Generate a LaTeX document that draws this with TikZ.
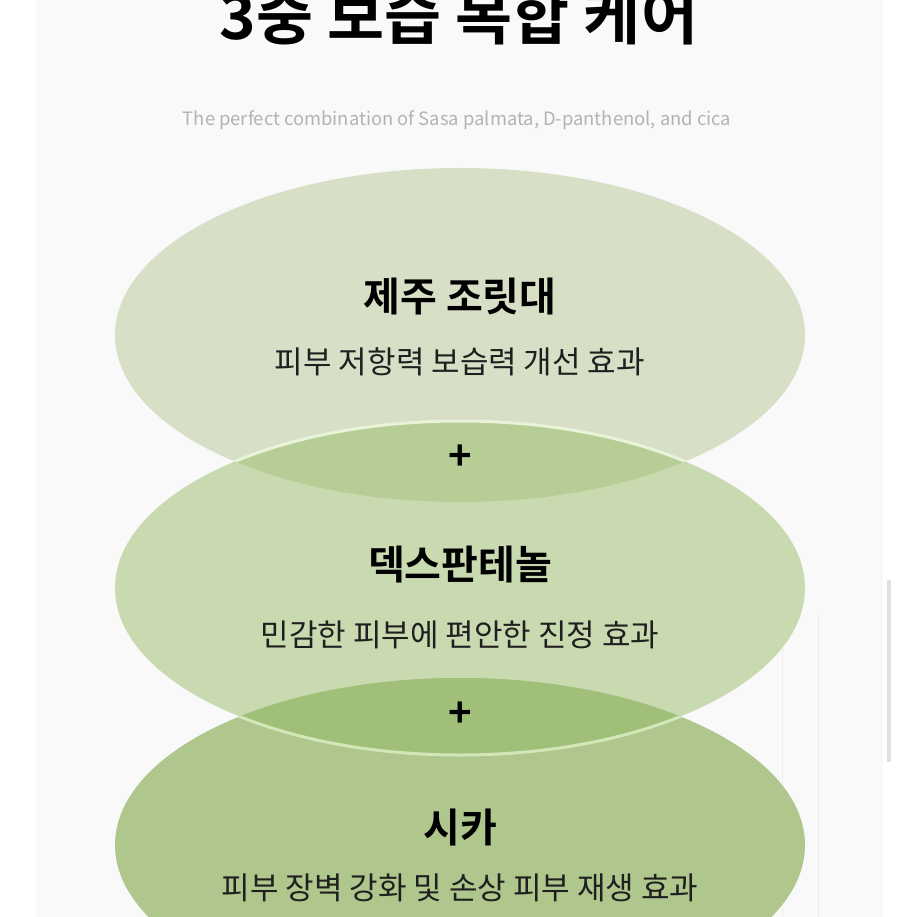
\documentclass[tikz,border=0pt]{standalone}
\usepackage{fontspec}
\newfontfamily\kr{Noto Sans CJK KR}[BoldFont={Noto Sans CJK KR Bold}]
\definecolor{pagebg}{HTML}{F9F9F9}
\definecolor{ellA}{HTML}{D7E0C6}
\definecolor{ellB}{HTML}{C9DAB0}
\definecolor{ellC}{HTML}{AFC78C}
\definecolor{lensAB}{HTML}{B6CD96}
\definecolor{lensBC}{HTML}{A0BF79}
\definecolor{glowA}{HTML}{E8F3D8}
\definecolor{glowB}{HTML}{D2E7B8}
\definecolor{subgray}{HTML}{B3B3B3}
\tikzset{
  headtxt/.style={font=\kr\bfseries\fontsize{40}{44}\selectfont, text=black, inner sep=0pt},
  bodytxt/.style={font=\kr\fontsize{31}{34}\selectfont, text=black!88, inner sep=0pt},
  plustxt/.style={font=\kr\bfseries\fontsize{40}{42}\selectfont, text=black, inner sep=0pt},
}
\begin{document}
\begin{tikzpicture}[x=1pt,y=-1pt]
\useasboundingbox (0,0) rectangle (917,917);
\fill[white] (0,0) rectangle (917,917);
\fill[pagebg] (36,0) rectangle (883,917);
% faint background details
\draw[black!7, line width=1pt] (782,615) -- (782,917);
\draw[black!7, line width=1pt] (818,615) -- (818,917);
\fill[black!12] (887,580) rectangle (891,762);
% ellipses
\def\EA{(460,335) ellipse [x radius=345, y radius=167]}
\def\EB{(460,588) ellipse [x radius=345, y radius=167]}
\def\EC{(460,845) ellipse [x radius=345, y radius=167]}
\fill[ellA] \EA;
\fill[ellB] \EB;
\fill[ellC] \EC;
\begin{scope}
  \clip \EA;
  \fill[lensAB] \EB;
  \draw[glowA, line width=3pt] \EB;
\end{scope}
\begin{scope}
  \clip \EC;
  \fill[lensBC] \EB;
  \draw[glowB, line width=3pt] \EB;
\end{scope}
% title and subtitle
\node[font=\kr\bfseries\fontsize{62}{66}\selectfont, anchor=base, inner sep=0pt] (title) at (459,40) {3중 보습 복합 케어};
\node[font=\kr\fontsize{18.4}{22}\selectfont, text=subgray, inner sep=0pt] (sub) at (457,120) {The perfect combination of Sasa palmata, D-panthenol, and cica};
% texts
\node[headtxt] (h1) at (460,297) {제주 조릿대};
\node[bodytxt] (b1) at (460,362) {피부 저항력 보습력 개선 효과};
\node[plustxt] (p1) at (460,458) {+};
\node[headtxt] (h2) at (460,565) {덱스판테놀};
\node[bodytxt] (b2) at (460,635) {민감한 피부에 편안한 진정 효과};
\node[plustxt] (p2) at (460,715) {+};
\node[headtxt] (h3) at (460,828) {시카};
\node[bodytxt] (b3) at (460,888) {피부 장벽 강화 및 손상 피부 재생 효과};
\end{tikzpicture}
\end{document}
